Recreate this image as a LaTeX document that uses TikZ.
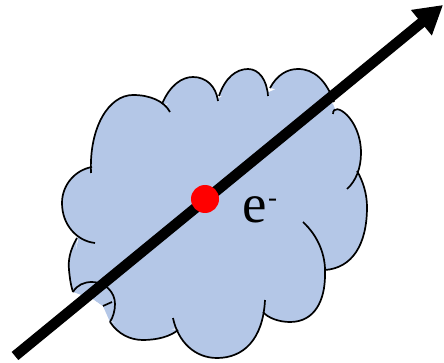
\documentclass[tikz,border=0pt]{standalone}
\usepackage{fontspec}
\setmainfont{Liberation Serif}
\usetikzlibrary{arrows.meta}
\definecolor{cloudblue}{RGB}{180,199,231}
\tikzset{
  cloudfill/.style={fill=cloudblue},
  cloudline/.style={draw=black, line width=1.7pt},
  arrowline/.style={draw=black, line width=10.5pt, -{Triangle[length=28pt,width=31pt]}},
  reddot/.style={circle, fill=red, minimum size=28pt, inner sep=0pt},
  lbl/.style={inner sep=0pt, anchor=base west, font=\fontsize{55}{55}\selectfont},
  lobeL1/.style={insert path={(92,167) .. controls (75,170) and (62,185) .. (62,203) .. controls (62,225) and (77,241) .. (95,243)}},
  lobeT1/.style={insert path={(91,173) .. controls (89,127) and (109,95) .. (133,95) .. controls (150,95) and (164,101) .. (170,112)}},
  lobeT2/.style={insert path={(162,104) .. controls (170,85) and (182,77) .. (193,77) .. controls (206,77) and (216,86) .. (218,101)}},
  lobeT3/.style={insert path={(219,96) .. controls (225,78) and (236,69) .. (248,69) .. controls (259,69) and (267,80) .. (268,96)}},
  lobeT4/.style={insert path={(270,88) .. controls (277,75) and (287,69) .. (298,69) .. controls (314,69) and (326,80) .. (334,102)}},
  lobeR1/.style={insert path={(333,114) .. controls (333,100) and (361,118) .. (361,153) .. controls (361,168) and (356,181) .. (347,189)}},
  lobeR2/.style={insert path={(357,171) .. controls (363,181) and (367,194) .. (367,207) .. controls (367,245) and (352,268) .. (325,270)}},
  lobeB3/.style={insert path={(303,222) .. controls (318,236) and (326,255) .. (325,275) .. controls (325,300) and (315,322) .. (290,322) .. controls (279,322) and (268,318) .. (263,312)}},
  lobeB2/.style={insert path={(265,300) .. controls (263,340) and (243,358) .. (217,358) .. controls (195,358) and (178,342) .. (173,318)}},
  lobeB1/.style={insert path={(110,322) .. controls (118,334) and (130,340) .. (143,340) .. controls (158,340) and (171,336) .. (178,330)}},
  lobeC/.style={insert path={(73,292) .. controls (77,285) and (84,282) .. (92,282) .. controls (105,282) and (115,292) .. (115,304) .. controls (115,311) and (113,317) .. (110,322)}},
  lobeL2/.style={insert path={(77,238) .. controls (70,250) and (68,260) .. (69,270) .. controls (70,280) and (71,286) .. (73,292)}},
}
\begin{document}
\begin{tikzpicture}[x=1pt,y=-1pt]
\useasboundingbox (0,0) rectangle (444,363);
% cloud fill
\fill[cloudfill] (93,167) -- (130,110) -- (165,106) -- (193,85) -- (219,98) -- (248,78) -- (269,92) -- (300,78) -- (333,104) -- (352,150) -- (356,175) -- (358,220) -- (323,272) -- (310,300) -- (264,311) -- (217,345) -- (177,328) -- (143,335) -- (111,321) -- (103,306) -- (93,299) -- (72,291) -- (73,265) -- (78,240) -- (70,203) -- cycle;
\fill[cloudfill, lobeL1];
\fill[cloudfill, lobeT1];
\fill[cloudfill, lobeT2];
\fill[cloudfill, lobeT3];
\fill[cloudfill, lobeT4];
\fill[cloudfill, lobeR1];
\fill[cloudfill, lobeR2];
\fill[cloudfill, lobeB3];
\fill[cloudfill, lobeB2];
\fill[cloudfill, lobeB1];
\fill[cloudfill, lobeC] -- (103,306) -- (93,299) -- cycle;
\fill[cloudfill, lobeL2];
% cloud outline
\draw[cloudline, lobeL1];
\draw[cloudline, lobeT1];
\draw[cloudline, lobeT2];
\draw[cloudline, lobeT3];
\draw[cloudline, lobeT4];
\draw[cloudline, lobeR1];
\draw[cloudline, lobeR2];
\draw[cloudline, lobeB3];
\draw[cloudline, lobeB2];
\draw[cloudline, lobeB1];
\draw[cloudline, lobeC];
\draw[cloudline, lobeL2];
\draw[cloudline] (103,306) -- (112,302);
% arrow, particle and label
\coordinate (tail) at (15,356);
\coordinate (head) at (443,5);
\draw[arrowline] (tail) -- (head);
\node[reddot] (dot) at (205,199) {};
\node[lbl] (elabel) at (242,223) {e\kern1.5pt\raisebox{17pt}{\fontsize{27}{27}\selectfont -}};
\end{tikzpicture}
\end{document}
